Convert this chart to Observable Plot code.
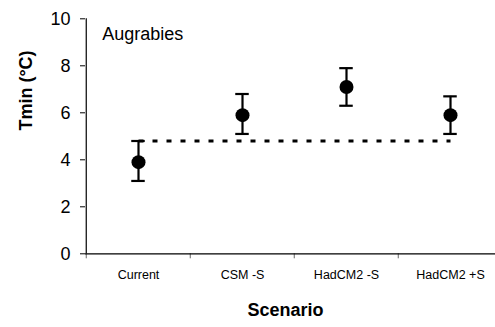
<!DOCTYPE html>
<html>
<head>
<meta charset="utf-8">
<script src="https://cdn.jsdelivr.net/npm/d3@7"></script>
<script src="https://cdn.jsdelivr.net/npm/@observablehq/plot@0.6"></script>
<style>
  html, body { margin: 0; padding: 0; background: #fff; }
  #chart svg { display: block; }
</style>
</head>
<body>
<div id="chart"></div>
<script>
const scenarios = ["Current", "CSM -S", "HadCM2 -S", "HadCM2 +S"];
const tminMean = [3.9, 5.9, 7.1, 5.9];
const tminLow = [3.1, 5.1, 6.3, 5.1];
const tminHigh = [4.8, 6.8, 7.9, 6.7];
const currentLevel = [4.8, 4.8, 4.8, 4.8];
const yTicks = [0, 2, 4, 6, 8, 10];
const yDomain = [0, 10];
const siteLabel = "Augrabies";
const xTitle = "Scenario";
const yTitle = "Tmin (°C)";

const rows = scenarios.map((s, i) => ({
  scenario: s, mean: tminMean[i], low: tminLow[i], high: tminHigh[i], ref: currentLevel[i]
}));

const fontStack = "'Liberation Sans', Arial, Helvetica, sans-serif";
const mLeft = 85, mTop = 18.3, mBottom = 73.7;
const bandRange = [85, 503];
const halfBand = (bandRange[1] - bandRange[0]) / scenarios.length / 2;
const capHalf = 7;

const chart = Plot.plot({
  width: 495,
  height: 327,
  marginLeft: mLeft,
  marginTop: mTop,
  marginBottom: mBottom,
  marginRight: 0,
  style: { fontFamily: fontStack, color: "#000", background: "#fff", overflow: "visible" },
  x: { type: "band", domain: scenarios, range: bandRange, padding: 0, align: 0.5 },
  y: { domain: yDomain },
  marks: [
    Plot.axisY({ ticks: yTicks, tickSize: 5, tickPadding: 10, fontSize: 18, label: null, stroke: "#000", strokeWidth: 1, strokeOpacity: 1 }),
    Plot.ruleX([scenarios[0]], { x: (d) => d, dx: -halfBand, y1: yDomain[0], y2: yDomain[1], stroke: "#000", strokeWidth: 1.2 }),
    Plot.ruleY([0], { stroke: "#000", strokeWidth: 1.2 }),
    Plot.axisX({ tickSize: 5, dx: -halfBand, tickFormat: () => "", label: null, strokeWidth: 1, stroke: "#000", strokeOpacity: 0.6 }),
    Plot.axisX({ tickSize: 0, tickPadding: 16, fontSize: 12.5, label: null }),
    Plot.line(rows, { x: "scenario", y: "ref", stroke: "#000", strokeWidth: 3, strokeDasharray: "5,9", strokeLinecap: "butt" }),
    Plot.ruleX(rows, { x: "scenario", y1: "low", y2: "high", stroke: "#000", strokeWidth: 2.2 }),
    Plot.tickY(rows, { x: "scenario", y: "low", stroke: "#000", strokeWidth: 2.2, insetLeft: halfBand - capHalf, insetRight: halfBand - capHalf }),
    Plot.tickY(rows, { x: "scenario", y: "high", stroke: "#000", strokeWidth: 2.2, insetLeft: halfBand - capHalf, insetRight: halfBand - capHalf }),
    Plot.dot(rows, { x: "scenario", y: "mean", r: 7, fill: "#000", stroke: "none" }),
    Plot.text([siteLabel], { frameAnchor: "top-left", textAnchor: "start", lineAnchor: "top", dx: 16.7, dy: 8.4, fontSize: 18, fill: "#000" }),
    Plot.text([xTitle], { frameAnchor: "bottom", lineAnchor: "middle", dx: -5, dy: 56.5, fontSize: 18, fontWeight: "bold", fill: "#000" }),
    Plot.text([yTitle], { frameAnchor: "left", rotate: -90, lineAnchor: "middle", dx: -59, dy: -5.7, fontSize: 18, fontWeight: "bold", fill: "#000" })
  ]
});
document.getElementById("chart").appendChild(chart);
</script>
</body>
</html>
